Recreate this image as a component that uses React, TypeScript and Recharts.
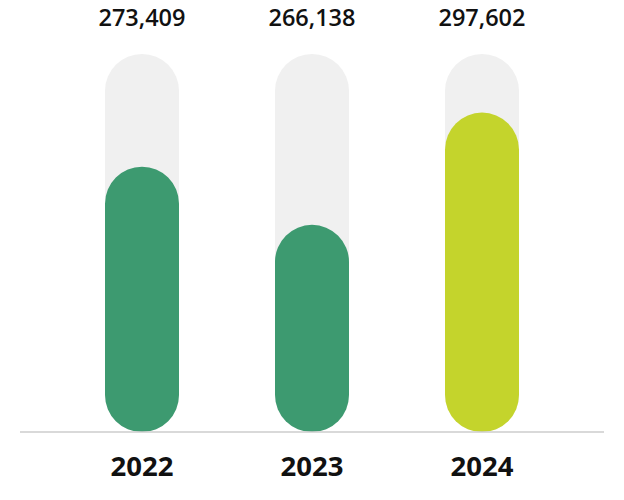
import { Bar, BarChart, Cell, XAxis, YAxis } from "recharts";

// years shown on the axis
const years = ["2022", "2023", "2024"];
// totals printed above each pill
const totals = [273409, 266138, 297602];
// how far each pill is filled (percent of the grey track)
const fillLevels = [70.2, 54.8, 84.5];
const barColors = ["#3d9a70", "#3d9a70", "#c4d42c"];

const data = years.map((year, i) => ({
  year,
  total: totals[i],
  level: fillLevels[i],
}));

const fontFamily = "'Open Sans', 'Noto Sans', sans-serif";

export default function App() {
  return (
    <div style={{ margin: -8, width: 624, height: 500, background: "#fff" }}>
      <BarChart
        width={624}
        height={500}
        data={data}
        margin={{ top: 0, right: 20, bottom: 0, left: 20 }}
        barSize={74}
      >
        <XAxis
          xAxisId="top"
          orientation="top"
          dataKey="total"
          height={54}
          axisLine={false}
          tickLine={false}
          tickSize={0}
          tickMargin={28}
          padding={{ left: 37, right: 37 }}
          tickFormatter={(v: number) => v.toLocaleString("en-US")}
          tick={{ fill: "#111", fontSize: 23.5, fontWeight: 600, fontFamily }}
        />
        <XAxis
          dataKey="year"
          height={68}
          axisLine={{ stroke: "#cccccc", strokeWidth: 1.5 }}
          tickLine={false}
          tickSize={0}
          tickMargin={24}
          padding={{ left: 37, right: 37 }}
          tick={{ fill: "#111", fontSize: 27.5, fontWeight: 700, fontFamily }}
        />
        <YAxis hide domain={[0, 100]} />
        <Bar
          dataKey="level"
          radius={[37, 37, 37, 37]}
          background={{ fill: "#f0f0f0", radius: 37 } as any}
          isAnimationActive={false}
        >
          {data.map((d, i) => (
            <Cell key={d.year} fill={barColors[i]} />
          ))}
        </Bar>
      </BarChart>
    </div>
  );
}
